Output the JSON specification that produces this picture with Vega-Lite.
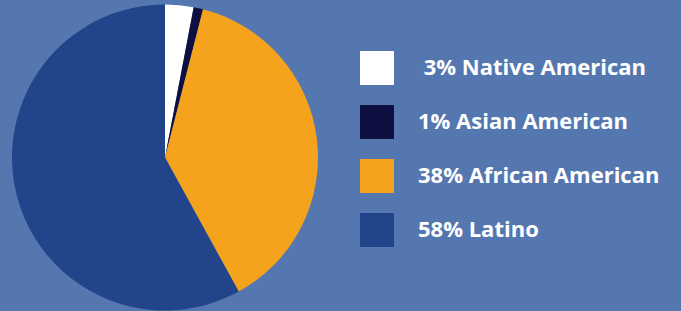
{
  "$schema": "https://vega.github.io/schema/vega-lite/v6.json",
  "width": 330,
  "height": 315,
  "autosize": {"type": "none"},
  "padding": {"left": 0, "top": 0, "right": 351, "bottom": 0},
  "background": "#5577B0",
  "config": {"view": {"stroke": null}},
  "data": {
    "values": [
      {"group": "\u200B\u00a03% Native American", "pct": 3, "rank": 1},
      {"group": "1% Asian American", "pct": 1, "rank": 2},
      {"group": "38% African American", "pct": 38, "rank": 3},
      {"group": "58% Latino", "pct": 58, "rank": 4}
    ]
  },
  "mark": {"type": "arc", "outerRadius": 153, "stroke": null},
  "encoding": {
    "theta": {"field": "pct", "type": "quantitative", "stack": true},
    "order": {"field": "rank", "type": "quantitative"},
    "color": {
      "field": "group",
      "type": "nominal",
      "scale": {
        "domain": ["\u200B\u00a03% Native American", "1% Asian American", "38% African American", "58% Latino"],
        "range": ["#FFFFFF", "#0C0F3F", "#F5A21C", "#22448A"]
      },
      "legend": {
        "orient": "none",
        "legendX": 360,
        "legendY": 51,
        "title": null,
        "padding": 0,
        "symbolType": "square",
        "symbolSize": 1156,
        "symbolStrokeWidth": 0,
        "symbolOpacity": 1,
        "rowPadding": 20,
        "labelOffset": 24,
        "labelFont": "Open Sans",
        "labelFontWeight": "bold",
        "labelFontSize": 22,
        "labelColor": "#FFFFFF",
        "labelLimit": 400
      }
    }
  }
}
